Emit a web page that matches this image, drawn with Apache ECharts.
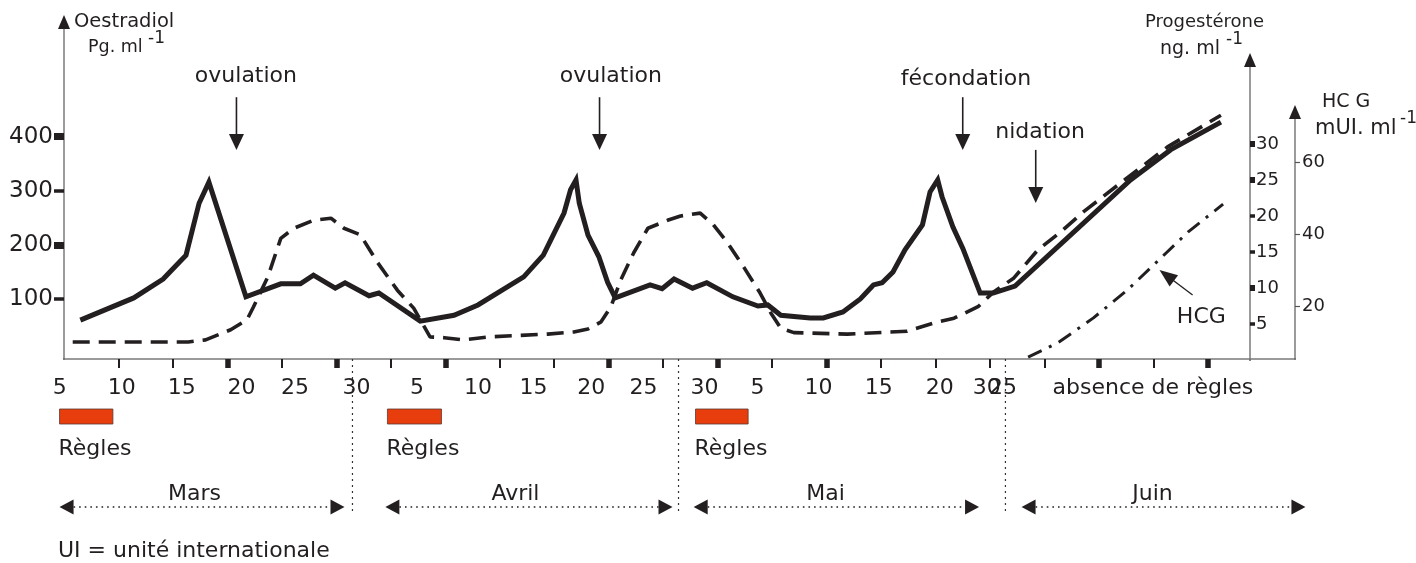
<!DOCTYPE html>
<html>
<head>
<meta charset="utf-8">
<script src="https://cdn.jsdelivr.net/npm/echarts@6/dist/echarts.min.js"></script>
<style>
html,body{margin:0;padding:0;background:#ffffff;}
#chart{width:1416px;height:563px;}
</style>
</head>
<body>
<div id="chart"></div>
<script>
// ---------------- DATA (day index 0 = 5 mars) ----------------
const oestradiolDays = [1.5, 6.4, 9.1, 11.2, 12.4, 13.3, 16.7, 19.9, 21.7, 22.9, 24.9, 25.8, 28.0, 28.9, 32.7, 35.8, 38.0, 42.2, 44.0, 45.9, 46.5, 47.0, 47.3, 48.1, 49.1, 49.9, 50.6, 53.8, 54.9, 56.0, 57.7, 59.0, 61.4, 63.7, 64.6, 65.8, 68.5, 69.7, 71.5, 73.1, 74.3, 75.1, 76.1, 77.2, 78.8, 79.5, 80.2, 80.6, 81.6, 82.5, 84.1, 85.3, 87.3, 97.9, 101.6, 106.2];
const oestradiolValues = [61, 102, 137, 181, 277, 316, 104, 128, 128, 144, 120, 130, 106, 111, 59, 70, 89, 141, 181, 259, 302, 320, 277, 218, 178, 131, 102, 126, 119, 137, 120, 130, 104, 87, 89, 70, 65, 65, 76, 100, 126, 130, 150, 191, 237, 298, 320, 289, 233, 194, 111, 111, 124, 320, 376, 427];

const progesteroneDays = [0.8, 11.4, 13.0, 15.3, 16.8, 17.4, 18.7, 19.9, 21.1, 22.9, 24.5, 25.7, 27.2, 28.8, 30.6, 32.1, 33.6, 34.9, 36.7, 38.9, 44.4, 46.8, 48.1, 49.3, 50.2, 51.1, 52.3, 53.6, 55.4, 56.6, 58.4, 59.6, 60.9, 62.4, 63.9, 64.9, 65.8, 67.0, 71.9, 77.4, 80.2, 81.7, 83.9, 85.3, 87.2, 89.4, 91.5, 93.6, 97.0, 101.3, 106.2];
const progesteroneValues = [2.5, 2.5, 2.8, 4.2, 5.6, 7.4, 11.5, 16.9, 18.3, 19.4, 19.7, 18.3, 17.4, 13.5, 9.7, 7.2, 3.2, 3.1, 2.8, 3.2, 3.6, 3.9, 4.3, 5.3, 7.4, 11.1, 14.9, 18.3, 19.4, 20.0, 20.4, 18.8, 16.3, 12.9, 9.3, 6.5, 4.4, 3.8, 3.6, 4.0, 5.3, 5.8, 7.4, 9.4, 11.4, 15.3, 17.8, 20.6, 24.6, 29.6, 34.0];

const hcgDays = [88.5, 91.2, 94.5, 97.6, 100.5, 103.2, 106.4];
const hcgValues = [5.8, 9.7, 16.7, 24.4, 32.8, 40.6, 48.3];

// tick labels of the day axis (as printed, with their positions in days)
const xTickLabelDays = [-0.4, 5.3, 10.8, 16.3, 21.2, 26.85, 32.4, 38.0, 43.1, 48.4, 53.2, 58.8, 63.65, 69.25, 74.8, 80.4, 84.7, 86.2];
const xTickLabels = ['5', '10', '15', '20', '25', '30', '5', '10', '15', '20', '25', '30', '5', '10', '15', '20', '30', '25'];
const thinDayTicks = [5, 10, 20, 30, 40, 45, 55, 65, 75, 80, 85, 90, 100];
const thickDayTicks = [15, 25, 35, 50, 60, 70, 95, 105];

const oestradiolTickLabels = [100, 200, 300, 400];
const oestradiolThinTicks = [100, 300];
const oestradiolThickTicks = [200, 400];
const progesteroneTickLabels = [5, 10, 15, 20, 25, 30];
const progesteroneThinTicks = [5, 15, 20];
const progesteroneThickTicks = [10, 25, 30];
const hcgTickLabels = [20, 40, 60];

// months, periods, events
const monthNames = ['Mars', 'Avril', 'Mai', 'Juin'];
const monthStartDays = [-0.41, 29.5, 57.8, 87.9];
const monthEndDays = [25.75, 55.86, 84.0, 113.96];
const monthLabelDays = [11.98, 41.44, 69.9, 99.92];
const monthBoundaryDays = [26.48, 56.41, 86.42];
const reglesStartDays = [-0.41, 29.69, 57.97];
const reglesEndDays = [4.49, 34.65, 62.8];
const absenceLabelDay = 90.74;

const eventLabels = ['ovulation', 'ovulation', 'fécondation', 'nidation', 'HCG'];
const eventArrowFromDays = [15.83, 49.16, 82.5, 89.2, 103.6];
const eventArrowFromLevels = [473, 473, 473, 375.6, 107.4];
const eventArrowToDays = [15.83, 49.16, 82.5, 89.2, 100.56];
const eventArrowToLevels = [375.6, 375.6, 375.6, 277.4, 153.6];
const eventLabelDays = [16.7, 50.2, 82.8, 89.6, 104.4];
const eventLabelLevels = [512, 512, 506.6, 408.7, 66.7];

// ---------------- STYLE / LAYOUT ----------------
const INK = '#231f20';
const AXIS = '#7a7a7a';
const FONT = '"DejaVu Sans", Verdana, sans-serif';
const DAY_MAX = 113;
const E_MIN = -10.9, E_MAX = 612;
const P_MIN = 0, P_MAX = 41.67;
const H_MIN = 5.28, H_MAX = 73.9;
const ROW = {xLabel: 29, reglesTop: 50, reglesBottom: 65, reglesText: 90, monthLabel: 135, monthArrow: 148, sepTop: 0, sepBottom: 156};

const zip = (a, b) => a.map((v, i) => [v, b[i]]);

function arrowShapes(a, b, headLen, headW, lw) {
  const dx = b[0] - a[0], dy = b[1] - a[1];
  const L = Math.hypot(dx, dy);
  const ux = dx / L, uy = dy / L;
  const bx = b[0] - ux * headLen, by = b[1] - uy * headLen;
  const nx = -uy, ny = ux;
  return [
    {type: 'line', shape: {x1: a[0], y1: a[1], x2: bx + ux, y2: by + uy}, style: {stroke: INK, lineWidth: lw}},
    {type: 'polygon', shape: {points: [[b[0], b[1]], [bx + nx * headW / 2, by + ny * headW / 2], [bx - nx * headW / 2, by - ny * headW / 2]]}, style: {fill: INK}}
  ];
}
function txt(x, y, text, size, align) {
  return {type: 'text', x: x, y: y, style: {text: text, fontSize: size, fontFamily: FONT, fill: INK, align: align || 'center', verticalAlign: 'middle'}};
}
// an axis line that only shows its black end arrow (the line itself is an invisible dash)
const arrowOnlyLine = {show: true, onZero: false, symbol: ['none', 'triangle'], symbolSize: [12, 14], lineStyle: {color: INK, width: 1.5, type: [0.01, 5000]}};

const gridBase = {left: 64, right: 121, containLabel: false, outerBoundsMode: 'none'};
const chart = echarts.init(document.getElementById('chart'));

const option = {
  animation: false,
  backgroundColor: '#ffffff',
  grid: [
    Object.assign({}, gridBase, {top: 22, bottom: 204}),
    Object.assign({}, gridBase, {top: 60, bottom: 203}),
    Object.assign({}, gridBase, {top: 112, bottom: 204}),
    Object.assign({}, gridBase, {top: 359, bottom: 0})
  ],
  xAxis: [
    {gridIndex: 0, type: 'value', min: 0, max: DAY_MAX,
     axisLine: {show: true, onZero: false, lineStyle: {color: AXIS, width: 1.5}},
     axisTick: {show: true, customValues: thinDayTicks, length: 9, lineStyle: {color: INK, width: 2}},
     axisLabel: {show: false}, splitLine: {show: false}},
    {gridIndex: 1, type: 'value', min: 0, max: DAY_MAX, show: false, axisLine: {onZero: false}},
    {gridIndex: 2, type: 'value', min: 0, max: DAY_MAX,
     axisLine: {show: false, onZero: false},
     axisTick: {show: true, customValues: thickDayTicks, length: 9, lineStyle: {color: INK, width: 5.5}},
     axisLabel: {show: false}, splitLine: {show: false}},
    {gridIndex: 3, type: 'value', min: 0, max: DAY_MAX, show: false, axisLine: {onZero: false}}
  ],
  yAxis: [
    {gridIndex: 0, type: 'value', position: 'left', min: E_MIN, max: E_MAX,
     axisLine: {show: true, onZero: false, lineStyle: {color: AXIS, width: 1.5}},
     axisTick: {show: true, customValues: oestradiolThinTicks, length: 10, lineStyle: {color: INK, width: 3.5}},
     axisLabel: {show: true, customValues: oestradiolTickLabels, fontSize: 23, fontFamily: FONT, color: INK, margin: 11},
     splitLine: {show: false}},
    {gridIndex: 0, type: 'value', position: 'left', min: E_MIN, max: E_MAX,
     axisLine: arrowOnlyLine,
     axisTick: {show: true, customValues: oestradiolThickTicks, length: 10, lineStyle: {color: INK, width: 7}},
     axisLabel: {show: false}, splitLine: {show: false}},
    {gridIndex: 1, type: 'value', position: 'right', offset: -45, min: P_MIN, max: P_MAX,
     axisLine: {show: true, onZero: false, lineStyle: {color: AXIS, width: 1.5}},
     axisTick: {show: true, customValues: progesteroneThinTicks, length: 5, lineStyle: {color: INK, width: 3.5}},
     axisLabel: {show: true, customValues: progesteroneTickLabels, fontSize: 18, fontFamily: FONT, color: INK, margin: 6},
     splitLine: {show: false}},
    {gridIndex: 1, type: 'value', position: 'right', offset: -45, min: P_MIN, max: P_MAX,
     axisLine: arrowOnlyLine,
     axisTick: {show: true, customValues: progesteroneThickTicks, length: 5, lineStyle: {color: INK, width: 6}},
     axisLabel: {show: false}, splitLine: {show: false}},
    {gridIndex: 2, type: 'value', position: 'right', min: H_MIN, max: H_MAX,
     axisLine: {show: true, onZero: false, lineStyle: {color: AXIS, width: 1.5}},
     axisTick: {show: true, customValues: hcgTickLabels, length: 5, lineStyle: {color: '#555', width: 1.2}},
     axisLabel: {show: true, customValues: hcgTickLabels, fontSize: 18, fontFamily: FONT, color: INK, margin: 7},
     splitLine: {show: false}},
    {gridIndex: 2, type: 'value', position: 'right', min: H_MIN, max: H_MAX,
     axisLine: arrowOnlyLine, axisTick: {show: false}, axisLabel: {show: false}, splitLine: {show: false}},
    {gridIndex: 3, type: 'value', min: 0, max: 204, inverse: true, show: false, axisLine: {onZero: false}}
  ],
  graphic: [
    {type: 'text', x: 74, y: 22, style: {text: 'Oestradiol', fontSize: 19.5, fontFamily: FONT, fill: INK, align: 'left', verticalAlign: 'middle'}},
    {type: 'text', x: 88, y: 47, style: {text: 'Pg. ml', fontSize: 17.5, fontFamily: FONT, fill: INK, align: 'left', verticalAlign: 'middle'}},
    {type: 'text', x: 148, y: 39, style: {text: '-1', fontSize: 17, fontFamily: FONT, fill: INK, align: 'left', verticalAlign: 'middle'}},
    {type: 'text', x: 1145, y: 22, style: {text: 'Progestérone', fontSize: 18, fontFamily: FONT, fill: INK, align: 'left', verticalAlign: 'middle'}},
    {type: 'text', x: 1160, y: 49, style: {text: 'ng. ml', fontSize: 19, fontFamily: FONT, fill: INK, align: 'left', verticalAlign: 'middle'}},
    {type: 'text', x: 1226, y: 40, style: {text: '-1', fontSize: 17, fontFamily: FONT, fill: INK, align: 'left', verticalAlign: 'middle'}},
    {type: 'text', x: 1322, y: 102, style: {text: 'HC G', fontSize: 19, fontFamily: FONT, fill: INK, align: 'left', verticalAlign: 'middle'}},
    {type: 'text', x: 1315, y: 129, style: {text: 'mUI. ml', fontSize: 21, fontFamily: FONT, fill: INK, align: 'left', verticalAlign: 'middle'}},
    {type: 'text', x: 1400, y: 119, style: {text: '-1', fontSize: 17, fontFamily: FONT, fill: INK, align: 'left', verticalAlign: 'middle'}},
    {type: 'text', x: 58, y: 551, style: {text: 'UI = unité internationale', fontSize: 22, fontFamily: FONT, fill: INK, align: 'left', verticalAlign: 'middle'}}
  ],
  series: [
    {type: 'line', name: 'Oestradiol', xAxisIndex: 0, yAxisIndex: 0, data: zip(oestradiolDays, oestradiolValues),
     symbol: 'none', silent: true, z: 5,
     lineStyle: {color: INK, width: 5, join: 'miter', miterLimit: 8}},
    {type: 'line', name: 'Progestérone', xAxisIndex: 1, yAxisIndex: 2, data: zip(progesteroneDays, progesteroneValues),
     symbol: 'none', silent: true, z: 4,
     lineStyle: {color: INK, width: 3.6, type: [17, 9]}},
    {type: 'line', name: 'HCG', xAxisIndex: 2, yAxisIndex: 4, data: zip(hcgDays, hcgValues),
     symbol: 'none', silent: true, z: 4,
     lineStyle: {color: INK, width: 3, type: [15, 8, 3, 8]}},
    // event annotations (arrows + labels), in oestradiol coordinates
    {type: 'custom', coordinateSystem: 'cartesian2d', xAxisIndex: 0, yAxisIndex: 0, silent: true, z: 6, clip: false,
     data: eventLabels.map((_, i) => [eventArrowFromDays[i], eventArrowFromLevels[i], eventArrowToDays[i], eventArrowToLevels[i], eventLabelDays[i], eventLabelLevels[i]]),
     renderItem: function (params, api) {
       const i = params.dataIndex;
       const a = api.coord([api.value(0), api.value(1)]);
       const b = api.coord([api.value(2), api.value(3)]);
       const t = api.coord([api.value(4), api.value(5)]);
       const vertical = i < 4;
       return {type: 'group', children: arrowShapes(a, b, vertical ? 16 : 18, vertical ? 15 : 14, vertical ? 1.6 : 1.3)
         .concat([txt(t[0], t[1], eventLabels[i], 22)])};
     }},
    // day tick labels
    {type: 'custom', coordinateSystem: 'cartesian2d', xAxisIndex: 3, yAxisIndex: 6, silent: true, clip: false,
     data: xTickLabelDays.map(d => [d, ROW.xLabel]),
     renderItem: function (params, api) {
       const p = api.coord([api.value(0), api.value(1)]);
       return txt(p[0], p[1], xTickLabels[params.dataIndex], 22);
     }},
    // "absence de règles"
    {type: 'custom', coordinateSystem: 'cartesian2d', xAxisIndex: 3, yAxisIndex: 6, silent: true, clip: false,
     data: [[absenceLabelDay, ROW.xLabel]],
     renderItem: function (params, api) {
       const p = api.coord([api.value(0), api.value(1)]);
       return txt(p[0], p[1], 'absence de règles', 22, 'left');
     }},
    // periods (Règles)
    {type: 'custom', coordinateSystem: 'cartesian2d', xAxisIndex: 3, yAxisIndex: 6, silent: true, clip: false,
     data: reglesStartDays.map((s, i) => [s, reglesEndDays[i]]),
     renderItem: function (params, api) {
       const a = api.coord([api.value(0), ROW.reglesTop]);
       const b = api.coord([api.value(1), ROW.reglesBottom]);
       const t = api.coord([api.value(0), ROW.reglesText]);
       return {type: 'group', children: [
         {type: 'rect', shape: {x: a[0], y: a[1], width: b[0] - a[0], height: b[1] - a[1]}, style: {fill: '#e83d0c', stroke: '#5b3a30', lineWidth: 0.8}},
         txt(t[0] - 1, t[1], 'Règles', 22, 'left')
       ]};
     }},
    // months
    {type: 'custom', coordinateSystem: 'cartesian2d', xAxisIndex: 3, yAxisIndex: 6, silent: true, clip: false,
     data: monthStartDays.map((s, i) => [s, monthEndDays[i], monthLabelDays[i]]),
     renderItem: function (params, api) {
       const a = api.coord([api.value(0), ROW.monthArrow]);
       const b = api.coord([api.value(1), ROW.monthArrow]);
       const t = api.coord([api.value(2), ROW.monthLabel]);
       const hl = 14, hw = 7.5;
       return {type: 'group', children: [
         {type: 'line', shape: {x1: a[0] + hl, y1: a[1], x2: b[0] - hl, y2: b[1]}, style: {stroke: INK, lineWidth: 1.6, lineDash: [1.6, 4]}},
         {type: 'polygon', shape: {points: [[a[0], a[1]], [a[0] + hl, a[1] - hw], [a[0] + hl, a[1] + hw]]}, style: {fill: INK}},
         {type: 'polygon', shape: {points: [[b[0], b[1]], [b[0] - hl, b[1] - hw], [b[0] - hl, b[1] + hw]]}, style: {fill: INK}},
         txt(t[0], t[1], monthNames[params.dataIndex], 22)
       ]};
     }},
    // month boundaries
    {type: 'custom', coordinateSystem: 'cartesian2d', xAxisIndex: 3, yAxisIndex: 6, silent: true, clip: false,
     data: monthBoundaryDays.map(d => [d, ROW.sepTop]),
     renderItem: function (params, api) {
       const a = api.coord([api.value(0), ROW.sepTop]);
       const b = api.coord([api.value(0), ROW.sepBottom]);
       return {type: 'line', shape: {x1: a[0], y1: a[1], x2: b[0], y2: b[1]}, style: {stroke: '#333', lineWidth: 1.2, lineDash: [2, 4]}};
     }}
  ]
};
chart.setOption(option);
</script>
</body>
</html>
